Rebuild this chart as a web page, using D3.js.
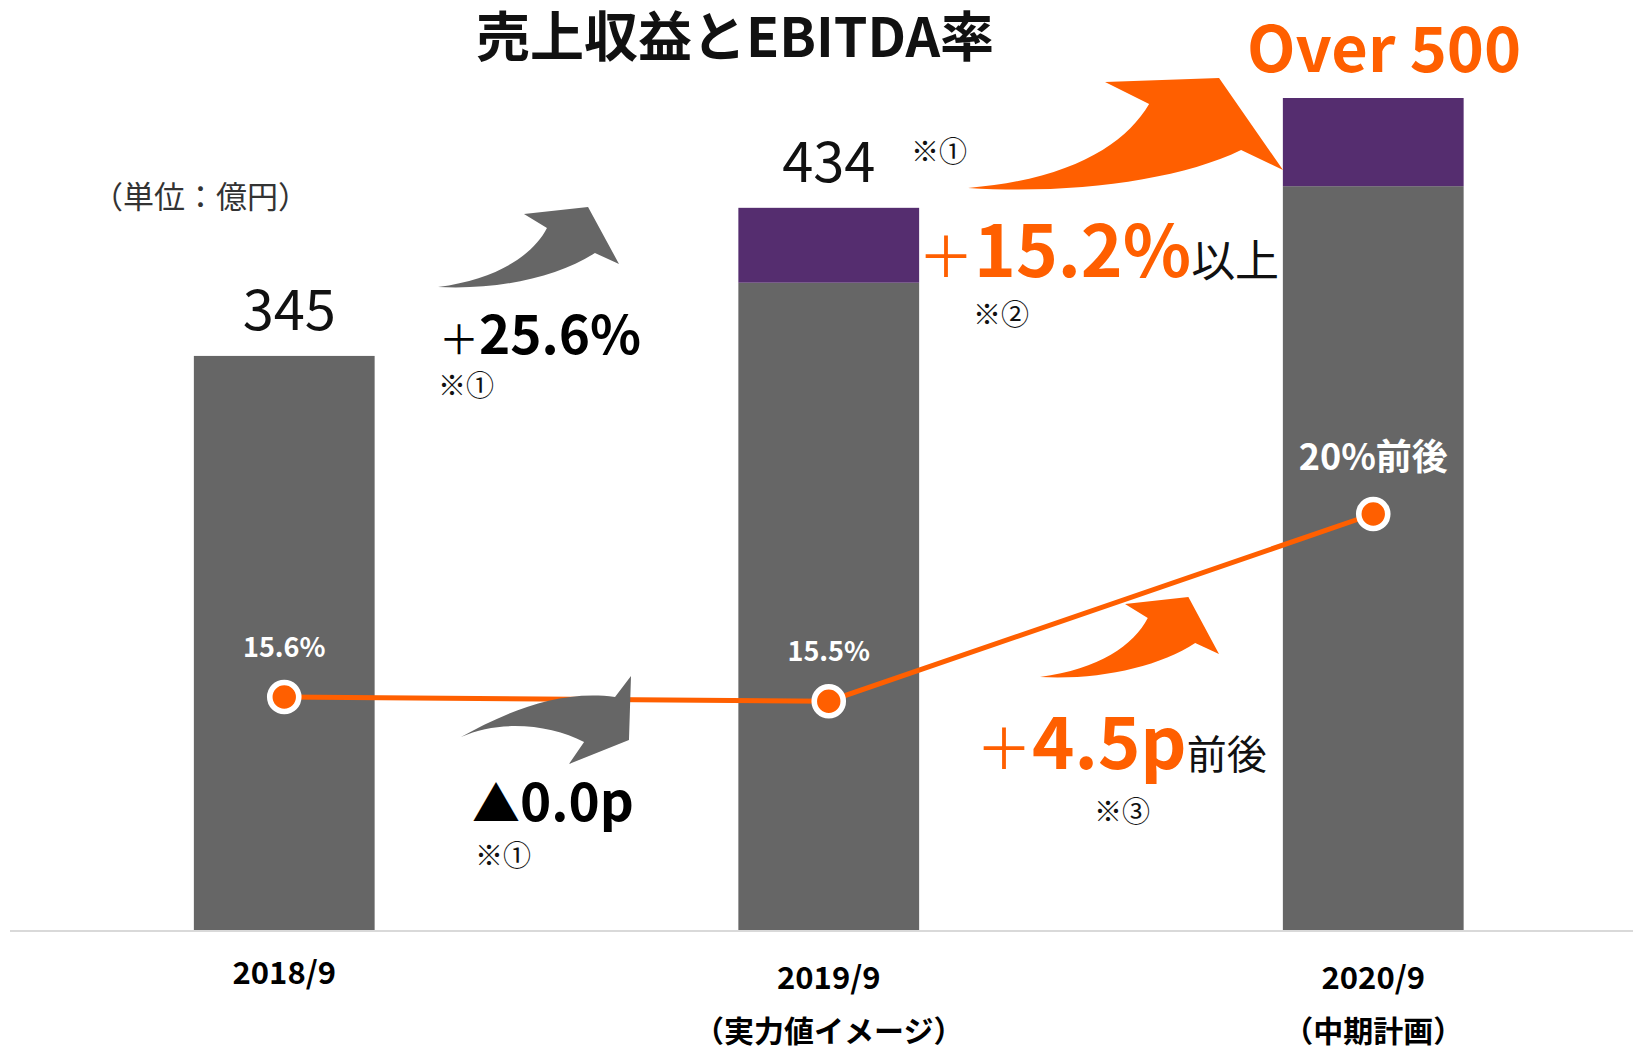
<!DOCTYPE html>
<html>
<head>
<meta charset="utf-8">
<script src="https://cdn.jsdelivr.net/npm/d3@7"></script>
<style>
  body { margin: 0; background: #fff; }
  text { font-family: "Noto Sans CJK JP", "Noto Sans", sans-serif; }
</style>
</head>
<body>
<script>
// 売上収益 (億円) と EBITDA率

const periods = ["2018/9", "2019/9", "2020/9"];
const subLabels = ["", "（実力値イメージ）", "（中期計画）"];
const baseRevenue = [345, 389, 447];   // gray part
const extraRevenue = [0, 45, 53];      // purple part
const totalLabels = ["345", "434", ""];
const ebitdaRate = [15.6, 15.5, 20];
const rateLabels = ["15.6%", "15.5%", "20%前後"];

const gray = "#666666";
const purple = "#552d6f";
const orange = "#ff5f00";

let svg = d3.select("body").append("svg")
  .attr("width", 1633)
  .attr("height", 1051);

let x = d3.scaleBand()
  .domain(periods)
  .range([12, 1645.5])
  .paddingInner(0.668)
  .paddingOuter(0.334);

let y = d3.scaleLinear()
  .domain([0, 500])
  .range([930, 98]);

let y2 = d3.scaleLinear()
  .domain([10, 20])
  .range([930, 514]);

let cx = (d, i) => x(periods[i]) + x.bandwidth() / 2;

// baseline
svg.append("line")
  .attr("x1", 10).attr("x2", 1633)
  .attr("y1", y(0) + 1).attr("y2", y(0) + 1)
  .attr("stroke", "#d9d9d9")
  .attr("stroke-width", 2);

// bars
svg.selectAll("rect.base")
  .data(baseRevenue).enter().append("rect")
    .attr("class", "base")
    .attr("x", (d, i) => x(periods[i]))
    .attr("y", d => y(d))
    .attr("width", x.bandwidth())
    .attr("height", d => y(0) - y(d))
    .attr("fill", gray);

svg.selectAll("rect.extra")
  .data(extraRevenue).enter().append("rect")
    .attr("class", "extra")
    .attr("x", (d, i) => x(periods[i]))
    .attr("y", (d, i) => y(baseRevenue[i] + d))
    .attr("width", x.bandwidth())
    .attr("height", (d, i) => y(baseRevenue[i]) - y(baseRevenue[i] + d))
    .attr("fill", purple);

// bar totals
svg.selectAll("text.total")
  .data(totalLabels).enter().append("text")
    .attr("class", "total")
    .attr("x", (d, i) => cx(d, i) + (i == 0 ? 5 : 0))
    .attr("y", (d, i) => y(baseRevenue[i] + extraRevenue[i]) - 26)
    .attr("text-anchor", "middle")
    .attr("font-size", 56)
    .attr("fill", "#111")
    .text(d => d);

// x axis labels
let xAxis = d3.axisBottom(x).tickSize(0).tickPadding(0);
let gx = svg.append("g")
  .attr("transform", "translate(0," + y(0) + ")")
  .call(xAxis);
gx.select(".domain").remove();
gx.selectAll(".tick text")
  .attr("y", (d, i) => subLabels[i] ? 59 : 54)
  .attr("dy", 0)
  .attr("font-size", 31)
  .attr("font-weight", "bold")
  .attr("fill", "#000")
  .style("font-family", "'Noto Sans CJK JP', sans-serif");
gx.selectAll(".tick").append("text")
  .attr("y", 112)
  .attr("text-anchor", "middle")
  .attr("font-size", 30)
  .attr("font-weight", "bold")
  .attr("fill", "#000")
  .text((d, i) => subLabels[i]);

// EBITDA rate line
let line = d3.line()
  .x((d, i) => cx(d, i))
  .y(d => y2(d));

svg.append("path")
  .datum(ebitdaRate)
  .attr("d", line)
  .attr("fill", "none")
  .attr("stroke", orange)
  .attr("stroke-width", 5);

// curved block arrows (shape in units of width / height, tail at 0,0)
const upShape = [[0, 0], [0.33, -0.1], [0.525, -0.4], [0.602, -0.738],
  [0.475, -0.913], [0.829, -1], [1, -0.288], [0.867, -0.425],
  [0.663, -0.125], [0.33, 0.04]];
const bigUpShape = [[0, 0], [0.33, -0.08], [0.5, -0.4], [0.575, -0.764],
  [0.435, -0.964], [0.797, -1], [1, -0.164], [0.867, -0.345],
  [0.67, -0.07], [0.33, 0.06]];
const downShape = [[0, 0], [0.235, -0.361], [0.559, -0.787], [0.906, -0.656],
  [1, -1], [0.988, 0.049], [0.635, 0.443], [0.724, 0.082],
  [0.529, -0.197], [0.235, -0.295]];

function arrow(shape, x0, y0, w, h, color) {
  let P = k => [x0 + shape[k][0] * w, y0 + shape[k][1] * h];
  let p = d3.path();
  p.moveTo(...P(0));
  p.bezierCurveTo(...P(1), ...P(2), ...P(3));
  p.lineTo(...P(4));
  p.lineTo(...P(5));
  p.lineTo(...P(6));
  p.lineTo(...P(7));
  p.bezierCurveTo(...P(8), ...P(9), ...P(0));
  p.closePath();
  svg.append("path").attr("d", p.toString()).attr("fill", color);
}

arrow(upShape, 438, 287, 181, 80, gray);
arrow(downShape, 461, 737, 170, 61, gray);
arrow(upShape, 1040, 677, 179, 80, orange);
arrow(bigUpShape, 968, 188, 315, 110, orange);

// rate points
svg.selectAll("circle")
  .data(ebitdaRate).enter().append("circle")
    .attr("cx", (d, i) => cx(d, i))
    .attr("cy", d => y2(d))
    .attr("r", 14.5)
    .attr("fill", orange)
    .attr("stroke", "#fff")
    .attr("stroke-width", 5.6);

svg.selectAll("text.rate")
  .data(rateLabels).enter().append("text")
    .attr("class", "rate")
    .attr("x", (d, i) => cx(d, i))
    .attr("y", (d, i) => y2(ebitdaRate[i]) - (i == 2 ? 44 : 40))
    .attr("text-anchor", "middle")
    .attr("font-size", (d, i) => i == 2 ? 36 : 27)
    .attr("font-weight", "bold")
    .attr("fill", "#fff")
    .text(d => d);

// titles / notes
svg.append("text")
  .attr("x", 735).attr("y", 57)
  .attr("text-anchor", "middle")
  .attr("font-size", 54)
  .attr("font-weight", "bold")
  .attr("fill", "#111")
  .text("売上収益とEBITDA率");

svg.append("text")
  .attr("x", 1247).attr("y", 72)
  .attr("font-size", 63)
  .attr("font-weight", "bold")
  .attr("fill", orange)
  .text("Over 500");

svg.append("text")
  .attr("x", 92).attr("y", 208)
  .attr("font-size", 31)
  .attr("fill", "#333")
  .text("（単位：億円）");

function note(tx, ty, str) {
  svg.append("text")
    .attr("x", tx).attr("y", ty)
    .attr("font-size", 28)
    .attr("fill", "#111")
    .text(str);
}
note(911, 162, "※①");
note(438, 396, "※①");
note(973, 325, "※②");
note(475, 866, "※①");
note(1094, 822, "※③");

// growth labels
let g1 = svg.append("text").attr("x", 439).attr("y", 354).attr("fill", "#000");
g1.append("tspan").attr("font-size", 40).text("＋");
g1.append("tspan").attr("font-size", 53).attr("font-weight", "bold").text("25.6%");

let g2 = svg.append("text").attr("x", 472).attr("y", 821).attr("fill", "#000");
g2.append("tspan").attr("font-size", 48).attr("font-weight", "bold").text("▲");
g2.append("tspan").attr("font-size", 53).attr("font-weight", "bold").text("0.0p");

let g3 = svg.append("text").attr("x", 918).attr("y", 277);
g3.append("tspan").attr("font-size", 56).attr("fill", orange).text("＋");
g3.append("tspan").attr("font-size", 71).attr("font-weight", "bold").attr("fill", orange).text("15.2%");
g3.append("tspan").attr("font-size", 44).attr("fill", "#111").text("以上");

let g4 = svg.append("text").attr("x", 976).attr("y", 769);
g4.append("tspan").attr("font-size", 56).attr("fill", orange).text("＋");
g4.append("tspan").attr("font-size", 72).attr("font-weight", "bold").attr("fill", orange).text("4.5p");
g4.append("tspan").attr("font-size", 40).attr("fill", "#111").text("前後");
</script>
</body>
</html>
